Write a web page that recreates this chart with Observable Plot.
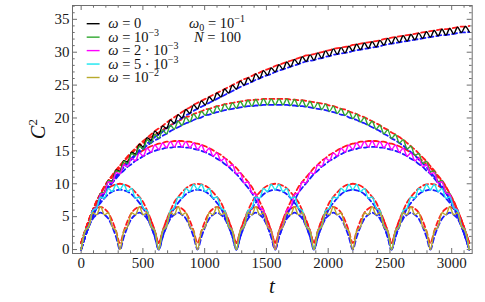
<!DOCTYPE html>
<html>
<head>
<meta charset="utf-8">
<script src="https://cdn.jsdelivr.net/npm/d3@7"></script>
<script src="https://cdn.jsdelivr.net/npm/@observablehq/plot@0.6"></script>
<style>
  html, body { margin: 0; padding: 0; background: #ffffff; }
  #chart svg { display: block; }
</style>
</head>
<body>
<div id="chart"></div>
<script>
// ---- sample times t (half-periods of the fast oscillation) ----
const tValues = [
  0, 31.4, 62.8, 94.2, 125.7, 157.1, 188.5, 219.9, 251.3, 282.7,
  314.2, 345.6, 377.0, 408.4, 439.8, 471.2, 502.7, 534.1, 565.5, 596.9,
  628.3, 659.7, 691.2, 722.6, 754.0, 785.4, 816.8, 848.2, 879.6, 911.1,
  942.5, 973.9, 1005.3, 1036.7, 1068.1, 1099.6, 1131.0, 1162.4, 1193.8, 1225.2,
  1256.6, 1288.1, 1319.5, 1350.9, 1382.3, 1413.7, 1445.1, 1476.5, 1508.0, 1539.4,
  1570.8, 1602.2, 1633.6, 1665.0, 1696.5, 1727.9, 1759.3, 1790.7, 1822.1, 1853.5,
  1885.0, 1916.4, 1947.8, 1979.2, 2010.6, 2042.0, 2073.5, 2104.9, 2136.3, 2167.7,
  2199.1, 2230.5, 2261.9, 2293.4, 2324.8, 2356.2, 2387.6, 2419.0, 2450.4, 2481.9,
  2513.3, 2544.7, 2576.1, 2607.5, 2638.9, 2670.4, 2701.8, 2733.2, 2764.6, 2796.0,
  2827.4, 2858.8, 2890.3, 2921.7, 2953.1, 2984.5, 3015.9, 3047.3, 3078.8, 3110.2,
  3141.6
];

// ---- omega = 0 : upper (red dashed) and lower (blue dashed) envelopes ----
const upperW0 = [
  1.0, 2.8, 4.5, 6.0, 7.4, 8.5, 9.6, 10.5, 11.3, 12.1,
  12.8, 13.5, 14.2, 14.8, 15.4, 16.0, 16.5, 17.0, 17.5, 18.0,
  18.4, 18.8, 19.3, 19.7, 20.1, 20.5, 20.9, 21.3, 21.6, 22.0,
  22.3, 22.6, 22.9, 23.2, 23.5, 23.8, 24.1, 24.4, 24.7, 25.0,
  25.3, 25.6, 25.9, 26.1, 26.4, 26.7, 26.9, 27.2, 27.4, 27.6,
  27.9, 28.1, 28.3, 28.5, 28.7, 28.9, 29.1, 29.3, 29.5, 29.6,
  29.7, 29.9, 30.0, 30.2, 30.3, 30.5, 30.6, 30.7, 30.8, 30.9,
  31.1, 31.2, 31.3, 31.4, 31.5, 31.6, 31.7, 31.8, 32.0, 32.1,
  32.2, 32.3, 32.4, 32.5, 32.6, 32.7, 32.8, 32.9, 33.0, 33.1,
  33.2, 33.3, 33.4, 33.5, 33.5, 33.6, 33.7, 33.8, 33.9, 33.9,
  34.0
];
const lowerW0 = [
  0, 1.9, 3.6, 5.1, 6.5, 7.6, 8.7, 9.6, 10.4, 11.2,
  11.9, 12.6, 13.3, 13.9, 14.5, 15.1, 15.6, 16.1, 16.6, 17.1,
  17.5, 17.9, 18.4, 18.8, 19.2, 19.6, 20.0, 20.4, 20.7, 21.1,
  21.4, 21.7, 22.0, 22.3, 22.6, 22.9, 23.2, 23.5, 23.8, 24.1,
  24.4, 24.7, 25.0, 25.2, 25.5, 25.8, 26.0, 26.3, 26.5, 26.7,
  27.0, 27.2, 27.4, 27.6, 27.8, 28.0, 28.2, 28.4, 28.6, 28.7,
  28.8, 29.0, 29.1, 29.3, 29.4, 29.6, 29.7, 29.8, 29.9, 30.0,
  30.2, 30.3, 30.4, 30.5, 30.6, 30.7, 30.8, 30.9, 31.1, 31.2,
  31.3, 31.4, 31.5, 31.6, 31.7, 31.8, 31.9, 32.0, 32.1, 32.2,
  32.3, 32.4, 32.5, 32.6, 32.6, 32.7, 32.8, 32.9, 33.0, 33.0,
  33.1
];

// ---- omega = 1e-3 ----
const upperW1 = [
  1.0, 2.8, 4.5, 6.0, 7.4, 8.5, 9.6, 10.5, 11.2, 12.0,
  12.7, 13.4, 14.0, 14.6, 15.2, 15.7, 16.2, 16.7, 17.1, 17.5,
  17.8, 18.2, 18.5, 18.9, 19.2, 19.5, 19.8, 20.1, 20.3, 20.6,
  20.8, 21.0, 21.3, 21.4, 21.6, 21.8, 21.9, 22.1, 22.2, 22.3,
  22.4, 22.5, 22.6, 22.7, 22.7, 22.8, 22.8, 22.9, 22.9, 22.9,
  22.9, 22.9, 22.9, 22.9, 22.8, 22.8, 22.7, 22.7, 22.6, 22.5,
  22.4, 22.3, 22.2, 22.1, 21.9, 21.8, 21.6, 21.4, 21.3, 21.0,
  20.8, 20.6, 20.3, 20.1, 19.8, 19.5, 19.2, 18.9, 18.5, 18.2,
  17.8, 17.5, 17.1, 16.7, 16.2, 15.7, 15.2, 14.6, 14.0, 13.4,
  12.7, 12.0, 11.2, 10.5, 9.6, 8.5, 7.4, 6.0, 4.5, 2.8,
  1.0
];
const lowerW1 = [
  0, 1.9, 3.6, 5.1, 6.5, 7.6, 8.7, 9.6, 10.3, 11.1,
  11.8, 12.5, 13.1, 13.7, 14.3, 14.8, 15.3, 15.8, 16.2, 16.6,
  16.9, 17.3, 17.6, 18.0, 18.3, 18.6, 18.9, 19.2, 19.4, 19.7,
  19.9, 20.1, 20.4, 20.5, 20.7, 20.9, 21.0, 21.2, 21.3, 21.4,
  21.5, 21.6, 21.7, 21.8, 21.8, 21.9, 21.9, 22.0, 22.0, 22.0,
  22.0, 22.0, 22.0, 22.0, 21.9, 21.9, 21.8, 21.8, 21.7, 21.6,
  21.5, 21.4, 21.3, 21.2, 21.0, 20.9, 20.7, 20.5, 20.4, 20.1,
  19.9, 19.7, 19.4, 19.2, 18.9, 18.6, 18.3, 18.0, 17.6, 17.3,
  16.9, 16.6, 16.2, 15.8, 15.3, 14.8, 14.3, 13.7, 13.1, 12.5,
  11.8, 11.1, 10.3, 9.6, 8.7, 7.6, 6.5, 5.1, 3.6, 1.9,
  0
];

// ---- omega = 2e-3 ----
const upperW2 = [
  1.0, 2.8, 4.5, 6.0, 7.3, 8.4, 9.5, 10.3, 11.0, 11.7,
  12.4, 12.9, 13.5, 13.9, 14.4, 14.7, 15.1, 15.4, 15.7, 15.9,
  16.1, 16.2, 16.4, 16.4, 16.5, 16.5, 16.5, 16.4, 16.4, 16.2,
  16.1, 15.9, 15.7, 15.4, 15.1, 14.7, 14.4, 13.9, 13.5, 12.9,
  12.4, 11.7, 11.0, 10.3, 9.5, 8.4, 7.3, 6.0, 4.5, 2.8,
  1.0, 2.8, 4.5, 6.0, 7.3, 8.4, 9.5, 10.3, 11.0, 11.7,
  12.4, 12.9, 13.5, 13.9, 14.4, 14.7, 15.1, 15.4, 15.7, 15.9,
  16.1, 16.2, 16.4, 16.4, 16.5, 16.5, 16.5, 16.4, 16.4, 16.2,
  16.1, 15.9, 15.7, 15.4, 15.1, 14.7, 14.4, 13.9, 13.5, 12.9,
  12.4, 11.7, 11.0, 10.3, 9.5, 8.4, 7.3, 6.0, 4.5, 2.8,
  1.0
];
const lowerW2 = [
  0, 1.9, 3.6, 5.1, 6.4, 7.5, 8.6, 9.4, 10.1, 10.8,
  11.5, 12.0, 12.6, 13.0, 13.5, 13.8, 14.2, 14.5, 14.8, 15.0,
  15.2, 15.3, 15.5, 15.5, 15.6, 15.6, 15.6, 15.5, 15.5, 15.3,
  15.2, 15.0, 14.8, 14.5, 14.2, 13.8, 13.5, 13.0, 12.6, 12.0,
  11.5, 10.8, 10.1, 9.4, 8.6, 7.5, 6.4, 5.1, 3.6, 1.9,
  0, 1.9, 3.6, 5.1, 6.4, 7.5, 8.6, 9.4, 10.1, 10.8,
  11.5, 12.0, 12.6, 13.0, 13.5, 13.8, 14.2, 14.5, 14.8, 15.0,
  15.2, 15.3, 15.5, 15.5, 15.6, 15.6, 15.6, 15.5, 15.5, 15.3,
  15.2, 15.0, 14.8, 14.5, 14.2, 13.8, 13.5, 13.0, 12.6, 12.0,
  11.5, 10.8, 10.1, 9.4, 8.6, 7.5, 6.4, 5.1, 3.6, 1.9,
  0
];

// ---- omega = 5e-3 ----
const upperW5 = [
  1.0, 2.8, 4.5, 5.9, 7.2, 8.0, 8.7, 9.3, 9.7, 9.9,
  10.0, 9.9, 9.7, 9.3, 8.7, 8.0, 7.2, 5.9, 4.5, 2.8,
  1.0, 2.8, 4.5, 5.9, 7.2, 8.0, 8.7, 9.3, 9.7, 9.9,
  10.0, 9.9, 9.7, 9.3, 8.7, 8.0, 7.2, 5.9, 4.5, 2.8,
  1.0, 2.8, 4.5, 5.9, 7.2, 8.0, 8.7, 9.3, 9.7, 9.9,
  10.0, 9.9, 9.7, 9.3, 8.7, 8.0, 7.2, 5.9, 4.5, 2.8,
  1.0, 2.8, 4.5, 5.9, 7.2, 8.0, 8.7, 9.3, 9.7, 9.9,
  10.0, 9.9, 9.7, 9.3, 8.7, 8.0, 7.2, 5.9, 4.5, 2.8,
  1.0, 2.8, 4.5, 5.9, 7.2, 8.0, 8.7, 9.3, 9.7, 9.9,
  10.0, 9.9, 9.7, 9.3, 8.7, 8.0, 7.2, 5.9, 4.5, 2.8,
  1.0
];
const lowerW5 = [
  0, 1.9, 3.6, 5.0, 6.3, 7.1, 7.8, 8.4, 8.8, 9.0,
  9.1, 9.0, 8.8, 8.4, 7.8, 7.1, 6.3, 5.0, 3.6, 1.9,
  0, 1.9, 3.6, 5.0, 6.3, 7.1, 7.8, 8.4, 8.8, 9.0,
  9.1, 9.0, 8.8, 8.4, 7.8, 7.1, 6.3, 5.0, 3.6, 1.9,
  0, 1.9, 3.6, 5.0, 6.3, 7.1, 7.8, 8.4, 8.8, 9.0,
  9.1, 9.0, 8.8, 8.4, 7.8, 7.1, 6.3, 5.0, 3.6, 1.9,
  0, 1.9, 3.6, 5.0, 6.3, 7.1, 7.8, 8.4, 8.8, 9.0,
  9.1, 9.0, 8.8, 8.4, 7.8, 7.1, 6.3, 5.0, 3.6, 1.9,
  0, 1.9, 3.6, 5.0, 6.3, 7.1, 7.8, 8.4, 8.8, 9.0,
  9.1, 9.0, 8.8, 8.4, 7.8, 7.1, 6.3, 5.0, 3.6, 1.9,
  0
];

// ---- omega = 1e-2 ----
const upperW10 = [
  1.0, 2.8, 4.4, 5.6, 6.2, 6.5, 6.2, 5.6, 4.4, 2.8,
  1.0, 2.8, 4.4, 5.6, 6.2, 6.5, 6.2, 5.6, 4.4, 2.8,
  1.0, 2.8, 4.4, 5.6, 6.2, 6.5, 6.2, 5.6, 4.4, 2.8,
  1.0, 2.8, 4.4, 5.6, 6.2, 6.5, 6.2, 5.6, 4.4, 2.8,
  1.0, 2.8, 4.4, 5.6, 6.2, 6.5, 6.2, 5.6, 4.4, 2.8,
  1.0, 2.8, 4.4, 5.6, 6.2, 6.5, 6.2, 5.6, 4.4, 2.8,
  1.0, 2.8, 4.4, 5.6, 6.2, 6.5, 6.2, 5.6, 4.4, 2.8,
  1.0, 2.8, 4.4, 5.6, 6.2, 6.5, 6.2, 5.6, 4.4, 2.8,
  1.0, 2.8, 4.4, 5.6, 6.2, 6.5, 6.2, 5.6, 4.4, 2.8,
  1.0, 2.8, 4.4, 5.6, 6.2, 6.5, 6.2, 5.6, 4.4, 2.8,
  1.0
];
const lowerW10 = [
  0, 1.9, 3.5, 4.7, 5.3, 5.6, 5.3, 4.7, 3.5, 1.9,
  0, 1.9, 3.5, 4.7, 5.3, 5.6, 5.3, 4.7, 3.5, 1.9,
  0, 1.9, 3.5, 4.7, 5.3, 5.6, 5.3, 4.7, 3.5, 1.9,
  0, 1.9, 3.5, 4.7, 5.3, 5.6, 5.3, 4.7, 3.5, 1.9,
  0, 1.9, 3.5, 4.7, 5.3, 5.6, 5.3, 4.7, 3.5, 1.9,
  0, 1.9, 3.5, 4.7, 5.3, 5.6, 5.3, 4.7, 3.5, 1.9,
  0, 1.9, 3.5, 4.7, 5.3, 5.6, 5.3, 4.7, 3.5, 1.9,
  0, 1.9, 3.5, 4.7, 5.3, 5.6, 5.3, 4.7, 3.5, 1.9,
  0, 1.9, 3.5, 4.7, 5.3, 5.6, 5.3, 4.7, 3.5, 1.9,
  0, 1.9, 3.5, 4.7, 5.3, 5.6, 5.3, 4.7, 3.5, 1.9,
  0
];

// ---- series meta, legend text, ticks ----
const seriesColors = ["#000000", "#30a830", "#ff00ff", "#18e6f0", "#b8aa2c"];
const seriesUpper = [upperW0, upperW1, upperW2, upperW5, upperW10];
const seriesLower = [lowerW0, lowerW1, lowerW2, lowerW5, lowerW10];
const legendBase = ["0", "10", "2 \u00b7 10", "5 \u00b7 10", "10"];
const legendExp = ["", "\u22123", "\u22123", "\u22123", "\u22122"];
const xMajorTicks = [0, 500, 1000, 1500, 2000, 2500, 3000];
const xMinorTicks = [100, 200, 300, 400, 600, 700, 800, 900, 1100, 1200, 1300, 1400, 1600, 1700, 1800, 1900, 2100, 2200, 2300, 2400, 2600, 2700, 2800, 2900, 3100];
const yMajorTicks = [0, 5, 10, 15, 20, 25, 30, 35];
const yMinorTicks = [1, 2, 3, 4, 6, 7, 8, 9, 11, 12, 13, 14, 16, 17, 18, 19, 21, 22, 23, 24, 26, 27, 28, 29, 31, 32, 33, 34, 36, 37];

// ---- build tables for the library ----
const envUpper = [], envLower = [], solid = [];
seriesUpper.forEach((up, s) => {
  const lo = seriesLower[s];
  tValues.forEach((t, i) => {
    envUpper.push({s, t, v: up[i]});
    envLower.push({s, t, v: lo[i]});
    // solid curve oscillates: touches lower envelope at even samples, upper at odd
    solid.push({s, t, v: i % 2 === 1 ? up[i] : lo[i]});
  });
});

const W = 485, H = 302;
const mL = 72, mR = 13.3, mT = 5, mB = 49;
const innerW = W - mL - mR, innerH = H - mT - mB;
const frameColor = "#6e6e6e";

const marks = [
  Plot.frame({stroke: frameColor, strokeWidth: 1}),
  // inward ticks on all four sides
  Plot.ruleX(xMajorTicks, {x: d => d, insetTop: innerH - 5, stroke: frameColor}),
  Plot.ruleX(xMajorTicks, {x: d => d, insetBottom: innerH - 5, stroke: frameColor}),
  Plot.ruleX(xMinorTicks, {x: d => d, insetTop: innerH - 2.7, stroke: frameColor}),
  Plot.ruleX(xMinorTicks, {x: d => d, insetBottom: innerH - 2.7, stroke: frameColor}),
  Plot.ruleY(yMajorTicks, {y: d => d, insetRight: innerW - 5, stroke: frameColor}),
  Plot.ruleY(yMajorTicks, {y: d => d, insetLeft: innerW - 5, stroke: frameColor}),
  Plot.ruleY(yMinorTicks, {y: d => d, insetRight: innerW - 2.7, stroke: frameColor}),
  Plot.ruleY(yMinorTicks, {y: d => d, insetLeft: innerW - 2.7, stroke: frameColor}),
  Plot.axisX({ticks: xMajorTicks, tickSize: 0, tickPadding: 4, tickFormat: d3.format("d"), label: null, fontSize: 15}),
  Plot.axisY({ticks: yMajorTicks, tickSize: 0, tickPadding: 3, tickFormat: d3.format("d"), label: null, fontSize: 15}),
];
// dashed envelopes
marks.push(Plot.line(envUpper, {x: "t", y: "v", z: "s", stroke: "#ff1a1a", strokeWidth: 1.8, strokeDasharray: "5,3", curve: "monotone-x"}));
marks.push(Plot.line(envLower, {x: "t", y: "v", z: "s", stroke: "#1a1aff", strokeWidth: 1.8, strokeDasharray: "5,3", curve: "monotone-x"}));
// solid oscillating curves on top
seriesColors.forEach((c, s) => {
  marks.push(Plot.line(solid.filter(d => d.s === s), {x: "t", y: "v", stroke: c, strokeWidth: 1.4, curve: "monotone-x"}));
});

const chart = Plot.plot({
  width: W, height: H,
  marginLeft: mL, marginRight: mR, marginTop: mT, marginBottom: mB,
  x: {domain: [-70, 3166]},
  y: {domain: [-0.6, 37.1]},
  style: {fontFamily: "'Liberation Serif', 'Times New Roman', serif", fontSize: "15px", color: "#1a1a1a", background: "#ffffff"},
  marks
});
document.getElementById("chart").appendChild(chart);

// ---- legend, annotation and axis titles (text) ----
const svg = d3.select(chart);
const g = svg.append("g")
  .attr("font-family", "'Liberation Serif', 'Times New Roman', serif")
  .attr("font-size", 14.5)
  .attr("text-anchor", "start")
  .attr("fill", "#111");

legendBase.forEach((base, i) => {
  const yb = 28.3 + i * 13.45;
  g.append("line")
    .attr("x1", 86.7).attr("x2", 99.6)
    .attr("y1", yb - 4.6).attr("y2", yb - 4.6)
    .attr("stroke", seriesColors[i]).attr("stroke-width", 1.4);
  const tx = g.append("text").attr("x", 108.3).attr("y", yb).attr("text-anchor", "start");
  tx.append("tspan").attr("font-style", "italic").text("\u03c9");
  tx.append("tspan").text(" = " + base);
  if (legendExp[i]) tx.append("tspan").attr("dy", -6).attr("font-size", 10).text(legendExp[i]);
});

const a1 = g.append("text").attr("x", 217).attr("y", 28.3).attr("text-anchor", "middle");
a1.append("tspan").attr("font-style", "italic").text("\u03c9");
a1.append("tspan").attr("dy", 3).attr("font-size", 10).text("0");
a1.append("tspan").attr("dy", -3).text(" = 10");
a1.append("tspan").attr("dy", -6).attr("font-size", 10).text("\u22121");

const a2 = g.append("text").attr("x", 217.5).attr("y", 41.8).attr("text-anchor", "middle");
a2.append("tspan").attr("font-style", "italic").text("N");
a2.append("tspan").text(" = 100");

// x axis title
g.append("text").attr("x", mL + innerW / 2).attr("y", 293)
  .attr("text-anchor", "middle").attr("font-size", 21).attr("font-style", "italic").text("t");

// y axis title C^2
const yt = g.append("text")
  .attr("transform", `translate(45,${mT + innerH / 2}) rotate(-90)`)
  .attr("text-anchor", "middle").attr("font-size", 20);
yt.append("tspan").attr("font-style", "italic").text("C");
yt.append("tspan").attr("dy", -8).attr("font-size", 13).text("2");
</script>
</body>
</html>
